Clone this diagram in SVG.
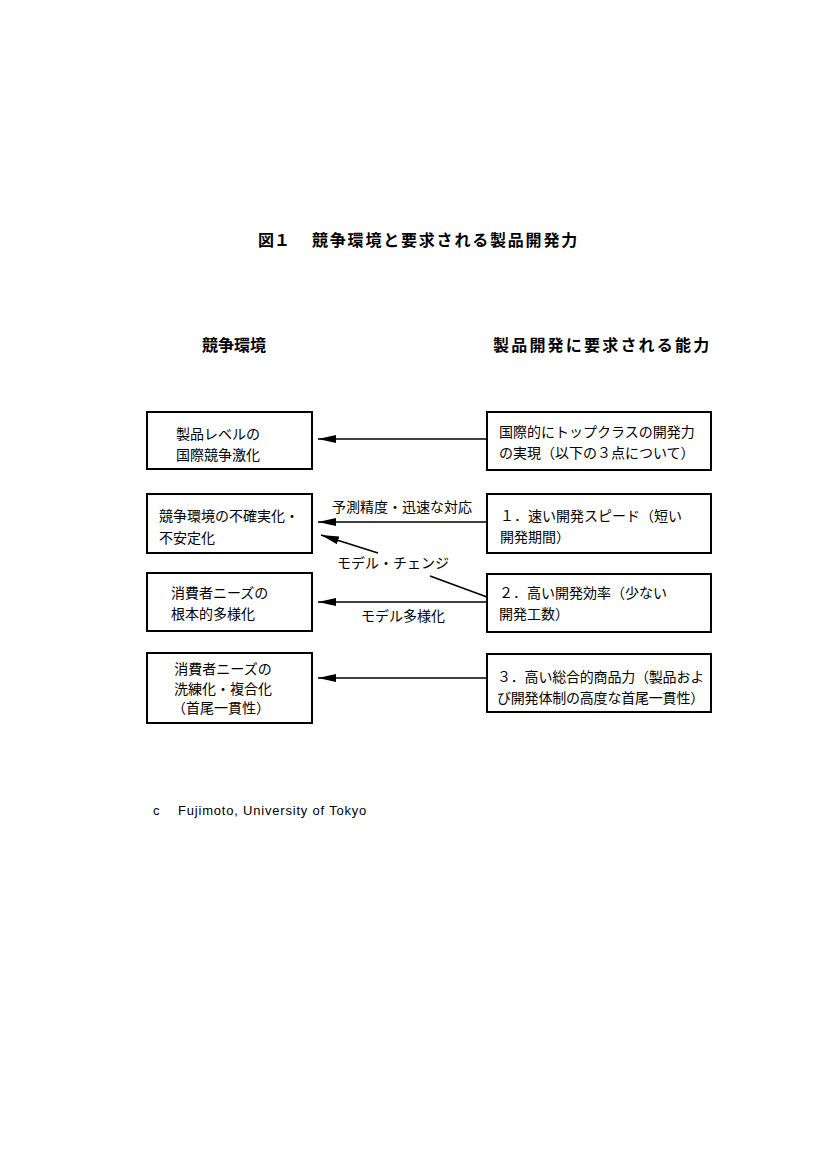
<svg xmlns="http://www.w3.org/2000/svg" width="827" height="1170" viewBox="0 0 827 1170">
<defs>
<style>
.bg{fill:#ffffff}
.box{fill:#ffffff;stroke:#000000;stroke-width:2}
.t{font-family:"Noto Sans CJK JP","Noto Sans CJK SC",sans-serif;font-size:14px;fill:#000000;dominant-baseline:central}
.h{font-family:"Noto Sans CJK JP","Noto Sans CJK SC",sans-serif;font-size:16px;font-weight:bold;fill:#000000;dominant-baseline:central}
.conn{fill:none;stroke:#000000;stroke-width:1.6}
.foot{font-family:"Liberation Sans",Arial,sans-serif;font-size:13px;letter-spacing:0.8px;fill:#000000;dominant-baseline:central}
</style>
<marker id="ah" markerUnits="userSpaceOnUse" markerWidth="18" markerHeight="8" refX="18" refY="4" orient="auto">
<path d="M0,0 L18,4 L0,8 Z" fill="#000000"/>
</marker>
</defs>
<rect class="bg" x="0" y="0" width="827" height="1170"/>

<g id="title">
<text class="h" y="239"><tspan x="258">図１</tspan><tspan x="312" letter-spacing="1.8">競争環境と要求される製品開発力</tspan></text>
</g>
<g id="header-left"><text class="h" x="202" y="344">競争環境</text></g>
<g id="header-right"><text class="h" x="493" y="344" letter-spacing="2.2">製品開発に要求される能力</text></g>

<g id="connectors">
<path class="conn" d="M487,439 L318,439" marker-end="url(#ah)" stroke-width="1.3"/>
<path class="conn" d="M487,522 L318,522" marker-end="url(#ah)" stroke-width="2"/>
<path class="conn" d="M487,597 L430,576 M378,553 L321,535" marker-end="url(#ah)" stroke-width="1.5"/>
<path class="conn" d="M487,602 L318,602" marker-end="url(#ah)" stroke-width="2"/>
<path class="conn" d="M487,678 L318,678" marker-end="url(#ah)" stroke-width="1.3"/>
<text class="t" x="332" y="506">予測精度・迅速な対応</text>
<text class="t" x="337" y="562">モデル・チェンジ</text>
<text class="t" x="361" y="615">モデル多様化</text>
</g>

<g id="env1">
<rect class="box" x="147" y="412" width="165" height="57"/>
<text class="t" x="176" y="433">製品レベルの</text>
<text class="t" x="176" y="454">国際競争激化</text>
</g>
<g id="env2">
<rect class="box" x="147" y="494" width="165" height="59"/>
<text class="t" x="159" y="515">競争環境の不確実化・</text>
<text class="t" x="159" y="537">不安定化</text>
</g>
<g id="env3">
<rect class="box" x="147" y="573" width="165" height="58"/>
<text class="t" x="171" y="592">消費者ニーズの</text>
<text class="t" x="171" y="613">根本的多様化</text>
</g>
<g id="env4">
<rect class="box" x="147" y="653" width="165" height="70"/>
<text class="t" x="223" y="668" text-anchor="middle">消費者ニーズの</text>
<text class="t" x="223" y="688" text-anchor="middle">洗練化・複合化</text>
<text class="t" x="221" y="707" text-anchor="middle">（首尾一貫性）</text>
</g>

<g id="cap0">
<rect class="box" x="487" y="412" width="224" height="58"/>
<text class="t" x="499" y="431">国際的にトップクラスの開発力</text>
<text class="t" x="499" y="452">の実現（以下の３点について）</text>
</g>
<g id="cap1">
<rect class="box" x="487" y="494" width="224" height="59"/>
<text class="t" x="500" y="515">１．速い開発スピード（短い</text>
<text class="t" x="500" y="536">開発期間）</text>
</g>
<g id="cap2">
<rect class="box" x="487" y="574" width="224" height="58"/>
<text class="t" x="499" y="592">２．高い開発効率（少ない</text>
<text class="t" x="499" y="613">開発工数）</text>
</g>
<g id="cap3">
<rect class="box" x="487" y="654" width="224" height="58"/>
<text class="t" x="497" y="676" letter-spacing="-0.2">３．高い総合的商品力（製品およ</text>
<text class="t" x="497" y="697" letter-spacing="-0.2">び開発体制の高度な首尾一貫性）</text>
</g>

<g id="footer">
<text class="foot" x="153" y="810">c</text>
<text class="foot" x="178" y="810">Fujimoto, University of Tokyo</text>
</g>
</svg>
